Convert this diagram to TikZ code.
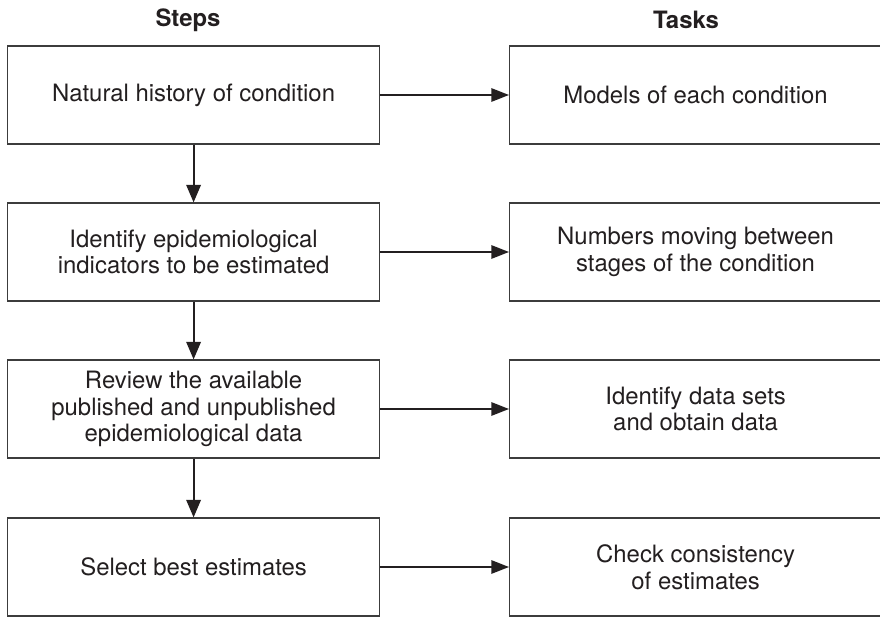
\documentclass[tikz,border=0pt]{standalone}
\usepackage{fontspec}
\setmainfont{TeX Gyre Heros}
\usepackage{xcolor}
\usetikzlibrary{arrows.meta,positioning}
\definecolor{ink}{HTML}{231F20}
\definecolor{inkgray}{HTML}{3C3C3C}
\tikzset{
  stepbox/.style={draw=inkgray,fill=white,line width=0.8pt,align=center,
                  minimum width=9.30cm,minimum height=2.45cm,inner sep=4pt,
                  text=ink,font=\fontsize{17}{19}\selectfont},
  taskbox/.style={stepbox},
  colhead/.style={text=ink,font=\fontsize{17}{19}\selectfont\bfseries},
  downarr/.style={-{Triangle[length=4.4mm,width=3.6mm]},line width=1.5pt,
                  draw=ink},
  sidearr/.style={-{Triangle[length=4.4mm,width=3.3mm]},line width=1.5pt,
                  draw=ink}
}
\begin{document}
\begin{tikzpicture}[x=1cm,y=1cm]
    \path[use as bounding box] (0,-15.425) rectangle (22,0);
    \node[colhead] (steps) at (4.70,-0.50) {Steps};
    \node[colhead] (tasks) at (17.15,-0.50) {Tasks};

    \node[stepbox] (s1) at (4.84,-2.375) {Natural history of condition};
    \node[stepbox] (s2) at (4.84,-6.30)
      {Identify epidemiological\\indicators to be estimated};
    \node[stepbox] (s3) at (4.84,-10.225)
      {Review the available\\published and unpublished\\epidemiological data};
    \node[stepbox] (s4) at (4.84,-14.175) {Select best estimates};

    \node[taskbox] (t1) at (17.39,-2.375) {Models of each condition};
    \node[taskbox] (t2) at (17.39,-6.30)
      {Numbers moving between\\stages of the condition};
    \node[taskbox] (t3) at (17.39,-10.225)
      {Identify data sets\\and obtain data};
    \node[taskbox] (t4) at (17.39,-14.175)
      {Check consistency\\of estimates};

    \draw[downarr] (s1) -- (s2);
    \draw[downarr] (s2) -- (s3);
    \draw[downarr] (s3) -- (s4);
    \draw[sidearr] (s1) -- (t1);
    \draw[sidearr] (s2) -- (t2);
    \draw[sidearr] (s3) -- (t3);
    \draw[sidearr] (s4) -- (t4);
  \end{tikzpicture}
\end{document}
